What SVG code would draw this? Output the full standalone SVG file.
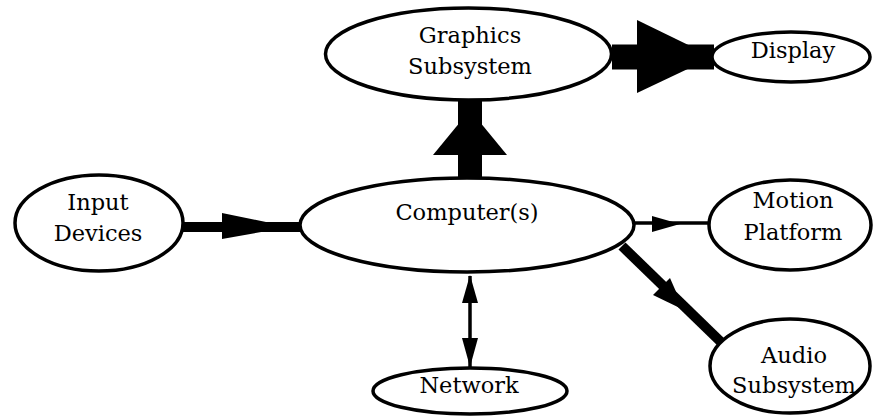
<svg xmlns="http://www.w3.org/2000/svg" width="873" height="417" viewBox="0 0 873 417">
<style>
.n ellipse{fill:#fff;stroke:#000;stroke-width:3.5}
.c line{stroke:#000}
.c polygon{fill:#000}
</style>
<rect width="873" height="417" fill="#fff"/>
<g id="connectors" class="c">
<line x1="612" y1="57" x2="714" y2="57" stroke-width="25"/>
<polygon points="637,20 637,93 713,57"/>
<line x1="470" y1="100" x2="470" y2="180" stroke-width="24"/>
<polygon points="433,155 507,155 470,110"/>
<line x1="182" y1="227" x2="302" y2="227" stroke-width="10"/>
<polygon points="222,213 222,239 290,227"/>
<line x1="634" y1="223" x2="710" y2="223" stroke-width="3.5"/>
<polygon points="652,216 652,232 680,224"/>
<line x1="622" y1="246" x2="724" y2="345" stroke-width="10"/>
<polygon points="653,295 670,278 684,310"/>
<line x1="470" y1="276" x2="470" y2="368" stroke-width="3.5"/>
<polygon points="462,303 478,303 470,275"/>
<polygon points="462,338 478,338 470,367"/>
</g>
<g font-family="DejaVu Serif, serif" font-size="22.5" text-anchor="middle" fill="#000">
<g id="graphics" class="n"><ellipse cx="468.5" cy="54" rx="143" ry="46"/><text x="470" y="43">Graphics</text><text x="470" y="74">Subsystem</text></g>
<g id="display" class="n"><ellipse cx="791" cy="57" rx="79" ry="25"/><text x="793" y="58">Display</text></g>
<g id="input" class="n"><ellipse cx="99" cy="223" rx="84" ry="48"/><text x="98" y="210">Input</text><text x="98" y="241">Devices</text></g>
<g id="computer" class="n"><ellipse cx="467" cy="225" rx="167" ry="47"/><text x="467" y="220">Computer(s)</text></g>
<g id="motion" class="n"><ellipse cx="790" cy="225" rx="81" ry="45"/><text x="793" y="208">Motion</text><text x="793" y="240">Platform</text></g>
<g id="audio" class="n"><ellipse cx="790" cy="366" rx="80" ry="47"/><text x="794" y="363">Audio</text><text x="794" y="393">Subsystem</text></g>
<g id="network" class="n"><ellipse cx="470" cy="391" rx="97" ry="23"/><text x="469" y="393">Network</text></g>
</g>
</svg>
